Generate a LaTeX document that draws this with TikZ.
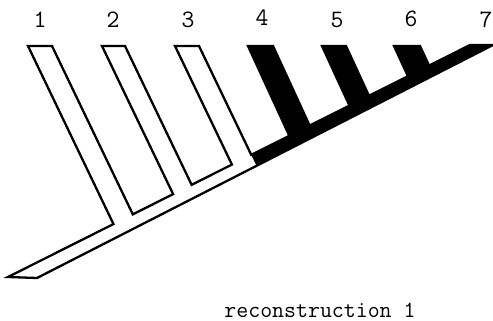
\documentclass[tikz,border=0pt]{standalone}
\begin{document}
\begin{tikzpicture}[x=0.5pt,y=-0.5pt, line width=1.15pt, line join=miter,
  lbl/.style={font=\ttfamily\fontsize{12.5}{13}\selectfont, inner sep=0pt},
  captiontext/.style={font=\ttfamily\fontsize{11.6}{13}\selectfont, inner sep=0pt}]
\useasboundingbox (0,0) rectangle (493,321);
% trunk lines
\coordinate (Ua) at (8,277);
\coordinate (Ub) at (470,45);
\coordinate (La) at (37,278);
\coordinate (Lb) at (493,45);
% strips: number / left top x / right top x / slope
\foreach \n/\a/\b/\s in {1/28/52/0.48, 2/102/125/0.48, 3/175/199/0.48, 4/248/273/0.46, 5/322/346/0.46, 6/394/420/0.46} {
  \coordinate (t\n l) at (\a,46);
  \coordinate (t\n r) at (\b,46);
  \coordinate (d\n l) at ({\a+\s*300},346);
  \coordinate (d\n r) at ({\b+\s*300},346);
  \coordinate (j\n l) at (intersection of Ua--Ub and t\n l--d\n l);
  \coordinate (j\n r) at (intersection of Ua--Ub and t\n r--d\n r);
}
\coordinate (bk) at (intersection of La--Lb and j3r--d3r);
% black part
\fill (j3r) -- (j4l) -- (t4l) -- (t4r) -- (j4r) -- (j5l) -- (t5l) -- (t5r) -- (j5r)
  -- (j6l) -- (t6l) -- (t6r) -- (j6r) -- (Ub) -- (Lb) -- (bk) -- cycle;
% outline
\draw (Ua) -- (j1l) -- (t1l) -- (t1r) -- (j1r) -- (j2l) -- (t2l) -- (t2r) -- (j2r)
  -- (j3l) -- (t3l) -- (t3r) -- (j3r) -- (j4l) -- (t4l) -- (t4r) -- (j4r)
  -- (j5l) -- (t5l) -- (t5r) -- (j5r) -- (j6l) -- (t6l) -- (t6r) -- (j6r)
  -- (Ub) -- (Lb) -- (La) -- cycle;
% labels
\node[lbl] (n1) at (40,20) {1};
\node[lbl] (n2) at (113,20) {2};
\node[lbl] (n3) at (188,20) {3};
\node[lbl] (n4) at (262,18) {4};
\node[lbl] (n5) at (337,20) {5};
\node[lbl] (n6) at (411,19) {6};
\node[lbl] (n7) at (486,20) {7};
\node[captiontext] (title) at (320,310) {reconstruction 1};
\end{tikzpicture}
\end{document}
